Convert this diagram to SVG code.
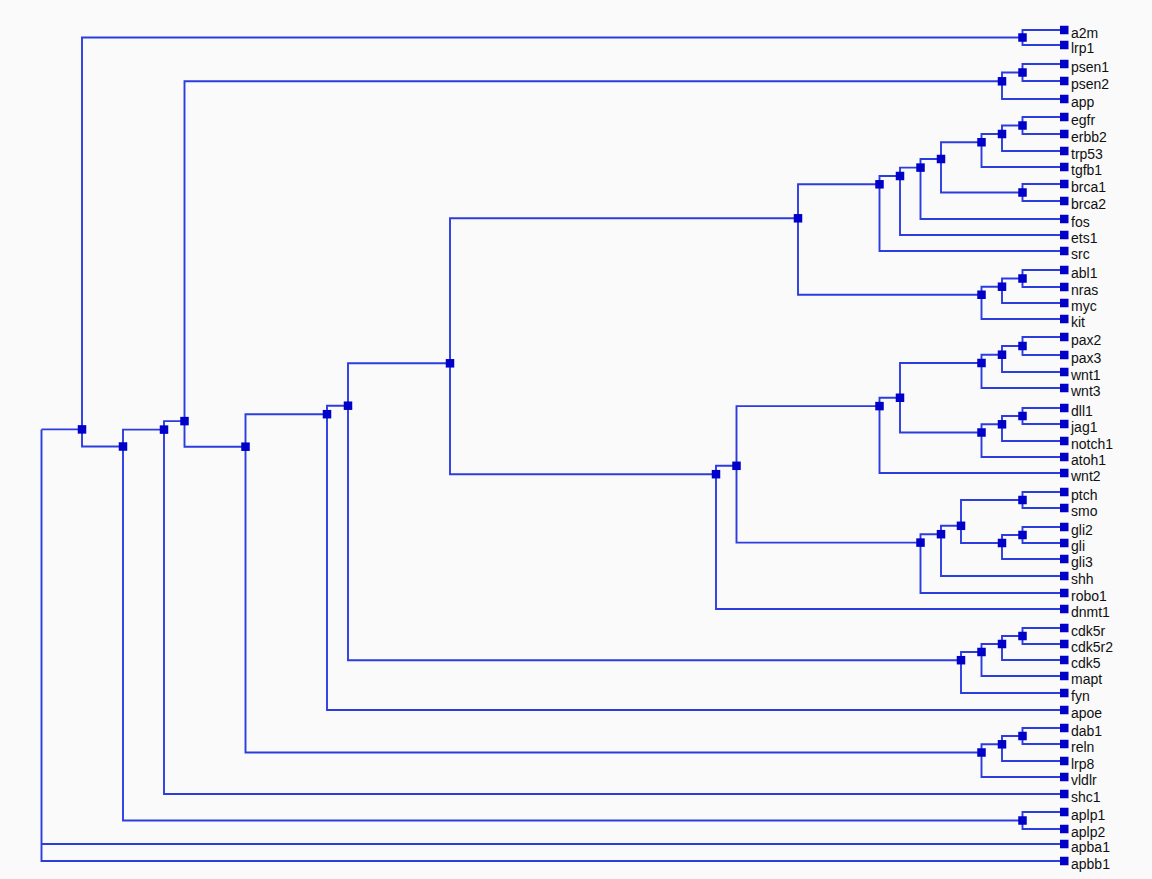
<svg xmlns="http://www.w3.org/2000/svg" width="1152" height="879" viewBox="0 0 1152 879">
  <style>
    .bg { fill: #fafafa; }
    .edge { fill: none; stroke: #2c3de0; stroke-width: 1.9; }
    .sq { fill: #0000c8; }
    .lbl { font-family: "Liberation Sans", Arial, sans-serif; font-size: 14px; fill: #101010; }
  </style>
  <defs>
    <rect id="node" x="-4.25" y="-4.25" width="8.5" height="8.5" class="sq"/>
    <rect id="tip" x="0" y="-4.25" width="8.5" height="8.5" class="sq"/>
  </defs>
  <rect class="bg" x="0" y="0" width="1152" height="879"/>

  <!-- elbow connectors: parent x, parent y, down/up to child y, across to child x -->
  <g id="connectors" class="edge">
    <path d="M41.5 429.4H82M41.5 429.4V844H1060M41.5 429.4V861H1060"/>
    <path d="M82 429.4V37.5H1022.5M82 429.4V446.5H123"/>
    <path d="M1022.5 37.5V30H1060M1022.5 37.5V45H1060"/>
    <path d="M123 446.5V429.6H164M123 446.5V820.5H1022.5"/>
    <path d="M1022.5 820.5V812H1060M1022.5 820.5V829H1060"/>
    <path d="M164 429.6V421.1H184.5M164 429.6V794H1060"/>
    <path d="M184.5 421.1V81.3H1002M184.5 421.1V446.7H245.5"/>
    <path d="M1002 81.3V72.5H1022.5M1002 81.3V99H1060"/>
    <path d="M1022.5 72.5V64H1060M1022.5 72.5V81H1060"/>
    <path d="M245.5 446.7V414.2H327M245.5 446.7V752.5H981.5"/>
    <path d="M327 414.2V405.7H348M327 414.2V710H1060"/>
    <path d="M348 405.7V363.3H450M348 405.7V660.2H961"/>
    <path d="M450 363.3V218.3H798M450 363.3V474.2H716"/>
    <path d="M798 218.3V184.3H879.5M798 218.3V294.75H981.5"/>
    <path d="M879.5 184.3V176H900M879.5 184.3V251H1060"/>
    <path d="M900 176V167.6H920.5M900 176V235H1060"/>
    <path d="M920.5 167.6V159H941M920.5 167.6V219H1060"/>
    <path d="M941 159V142.25H981.5M941 159V192.5H1022.5"/>
    <path d="M981.5 142.25V134H1002M981.5 142.25V167H1060"/>
    <path d="M1002 134V125.5H1022.5M1002 134V151H1060"/>
    <path d="M1022.5 125.5V117H1060M1022.5 125.5V134H1060"/>
    <path d="M1022.5 192.5V184H1060M1022.5 192.5V201H1060"/>
    <path d="M981.5 294.75V286.7H1002M981.5 294.75V319H1060"/>
    <path d="M1002 286.7V278.5H1022.5M1002 286.7V303H1060"/>
    <path d="M1022.5 278.5V270H1060M1022.5 278.5V287H1060"/>
    <path d="M716 474.2V465.8H736.5M716 474.2V609H1060"/>
    <path d="M736.5 465.8V406.1H879.5M736.5 465.8V542.6H920.5"/>
    <path d="M879.5 406.1V397.75H900M879.5 406.1V473H1060"/>
    <path d="M900 397.75V363H981.5M900 397.75V432.5H981.5"/>
    <path d="M981.5 363V354.7H1002M981.5 363V388H1060"/>
    <path d="M1002 354.7V346H1022.5M1002 354.7V372H1060"/>
    <path d="M1022.5 346V337H1060M1022.5 346V355H1060"/>
    <path d="M981.5 432.5V424.3H1002M981.5 432.5V457H1060"/>
    <path d="M1002 424.3V416H1022.5M1002 424.3V441H1060"/>
    <path d="M1022.5 416V408H1060M1022.5 416V424H1060"/>
    <path d="M920.5 542.6V534.2H941M920.5 542.6V593H1060"/>
    <path d="M941 534.2V525.8H961M941 534.2V576H1060"/>
    <path d="M961 525.8V500H1022.5M961 525.8V543H1002"/>
    <path d="M1022.5 500V492H1060M1022.5 500V508H1060"/>
    <path d="M1002 543V535H1022.5M1002 543V559H1060"/>
    <path d="M1022.5 535V527H1060M1022.5 535V543H1060"/>
    <path d="M961 660.2V652H981.5M961 660.2V693H1060"/>
    <path d="M981.5 652V644H1002M981.5 652V676H1060"/>
    <path d="M1002 644V636H1022.5M1002 644V660H1060"/>
    <path d="M1022.5 636V628H1060M1022.5 636V644H1060"/>
    <path d="M981.5 752.5V744.3H1002M981.5 752.5V777H1060"/>
    <path d="M1002 744.3V736H1022.5M1002 744.3V761H1060"/>
    <path d="M1022.5 736V728H1060M1022.5 736V744H1060"/>
  </g>

  <!-- internal cluster nodes -->
  <g id="clusters">
    <g id="c82"><use href="#node" x="82" y="429.4"/></g>
    <g id="c-a2m-lrp1"><use href="#node" x="1022.5" y="37.5"/></g>
    <g id="c123"><use href="#node" x="123" y="446.5"/></g>
    <g id="c-aplp"><use href="#node" x="1022.5" y="820.5"/></g>
    <g id="c164"><use href="#node" x="164" y="429.6"/></g>
    <g id="c184"><use href="#node" x="184.5" y="421.1"/></g>
    <g id="c-psen-app"><use href="#node" x="1002" y="81.3"/></g>
    <g id="c-psen"><use href="#node" x="1022.5" y="72.5"/></g>
    <g id="c245"><use href="#node" x="245.5" y="446.7"/></g>
    <g id="c327"><use href="#node" x="327" y="414.2"/></g>
    <g id="c348"><use href="#node" x="348" y="405.7"/></g>
    <g id="c450"><use href="#node" x="450" y="363.3"/></g>
    <g id="c798"><use href="#node" x="798" y="218.3"/></g>
    <g id="c880a"><use href="#node" x="879.5" y="184.3"/></g>
    <g id="c900a"><use href="#node" x="900" y="176"/></g>
    <g id="c920a"><use href="#node" x="920.5" y="167.6"/></g>
    <g id="c941a"><use href="#node" x="941" y="159"/></g>
    <g id="c-tgfb1"><use href="#node" x="981.5" y="142.25"/></g>
    <g id="c-trp53"><use href="#node" x="1002" y="134"/></g>
    <g id="c-egfr"><use href="#node" x="1022.5" y="125.5"/></g>
    <g id="c-brca"><use href="#node" x="1022.5" y="192.5"/></g>
    <g id="c-kit"><use href="#node" x="981.5" y="294.75"/></g>
    <g id="c-myc"><use href="#node" x="1002" y="286.7"/></g>
    <g id="c-abl1"><use href="#node" x="1022.5" y="278.5"/></g>
    <g id="c716"><use href="#node" x="716" y="474.2"/></g>
    <g id="c736"><use href="#node" x="736.5" y="465.8"/></g>
    <g id="c880b"><use href="#node" x="879.5" y="406.1"/></g>
    <g id="c900b"><use href="#node" x="900" y="397.75"/></g>
    <g id="c-wnt3"><use href="#node" x="981.5" y="363"/></g>
    <g id="c-wnt1"><use href="#node" x="1002" y="354.7"/></g>
    <g id="c-pax"><use href="#node" x="1022.5" y="346"/></g>
    <g id="c-atoh1"><use href="#node" x="981.5" y="432.5"/></g>
    <g id="c-notch1"><use href="#node" x="1002" y="424.3"/></g>
    <g id="c-dll1"><use href="#node" x="1022.5" y="416"/></g>
    <g id="c920b"><use href="#node" x="920.5" y="542.6"/></g>
    <g id="c941b"><use href="#node" x="941" y="534.2"/></g>
    <g id="c961b"><use href="#node" x="961" y="525.8"/></g>
    <g id="c-ptch"><use href="#node" x="1022.5" y="500"/></g>
    <g id="c-gli3"><use href="#node" x="1002" y="543"/></g>
    <g id="c-gli"><use href="#node" x="1022.5" y="535"/></g>
    <g id="c-fyn"><use href="#node" x="961" y="660.2"/></g>
    <g id="c-mapt"><use href="#node" x="981.5" y="652"/></g>
    <g id="c-cdk5"><use href="#node" x="1002" y="644"/></g>
    <g id="c-cdk5r"><use href="#node" x="1022.5" y="636"/></g>
    <g id="c-vldlr"><use href="#node" x="981.5" y="752.5"/></g>
    <g id="c-lrp8"><use href="#node" x="1002" y="744.3"/></g>
    <g id="c-dab1"><use href="#node" x="1022.5" y="736"/></g>
  </g>

  <!-- leaves: gene labels -->
  <g id="leaves">
    <g id="a2m"><use href="#tip" x="1060" y="30"/><text class="lbl" x="1071" y="37.5">a2m</text></g>
    <g id="lrp1"><use href="#tip" x="1060" y="45"/><text class="lbl" x="1071" y="52.5">lrp1</text></g>
    <g id="psen1"><use href="#tip" x="1060" y="64"/><text class="lbl" x="1071" y="71.5">psen1</text></g>
    <g id="psen2"><use href="#tip" x="1060" y="81"/><text class="lbl" x="1071" y="88.5">psen2</text></g>
    <g id="app"><use href="#tip" x="1060" y="99"/><text class="lbl" x="1071" y="106.5">app</text></g>
    <g id="egfr"><use href="#tip" x="1060" y="117"/><text class="lbl" x="1071" y="124.5">egfr</text></g>
    <g id="erbb2"><use href="#tip" x="1060" y="134"/><text class="lbl" x="1071" y="141.5">erbb2</text></g>
    <g id="trp53"><use href="#tip" x="1060" y="151"/><text class="lbl" x="1071" y="158.5">trp53</text></g>
    <g id="tgfb1"><use href="#tip" x="1060" y="167"/><text class="lbl" x="1071" y="174.5">tgfb1</text></g>
    <g id="brca1"><use href="#tip" x="1060" y="184"/><text class="lbl" x="1071" y="191.5">brca1</text></g>
    <g id="brca2"><use href="#tip" x="1060" y="201"/><text class="lbl" x="1071" y="208.5">brca2</text></g>
    <g id="fos"><use href="#tip" x="1060" y="219"/><text class="lbl" x="1071" y="226.5">fos</text></g>
    <g id="ets1"><use href="#tip" x="1060" y="235"/><text class="lbl" x="1071" y="242.5">ets1</text></g>
    <g id="src"><use href="#tip" x="1060" y="251"/><text class="lbl" x="1071" y="258.5">src</text></g>
    <g id="abl1"><use href="#tip" x="1060" y="270"/><text class="lbl" x="1071" y="277.5">abl1</text></g>
    <g id="nras"><use href="#tip" x="1060" y="287"/><text class="lbl" x="1071" y="294.5">nras</text></g>
    <g id="myc"><use href="#tip" x="1060" y="303"/><text class="lbl" x="1071" y="310.5">myc</text></g>
    <g id="kit"><use href="#tip" x="1060" y="319"/><text class="lbl" x="1071" y="326.5">kit</text></g>
    <g id="pax2"><use href="#tip" x="1060" y="337"/><text class="lbl" x="1071" y="344.5">pax2</text></g>
    <g id="pax3"><use href="#tip" x="1060" y="355"/><text class="lbl" x="1071" y="362.5">pax3</text></g>
    <g id="wnt1"><use href="#tip" x="1060" y="372"/><text class="lbl" x="1071" y="379.5">wnt1</text></g>
    <g id="wnt3"><use href="#tip" x="1060" y="388"/><text class="lbl" x="1071" y="395.5">wnt3</text></g>
    <g id="dll1"><use href="#tip" x="1060" y="408"/><text class="lbl" x="1071" y="415.5">dll1</text></g>
    <g id="jag1"><use href="#tip" x="1060" y="424"/><text class="lbl" x="1071" y="431.5">jag1</text></g>
    <g id="notch1"><use href="#tip" x="1060" y="441"/><text class="lbl" x="1071" y="448.5">notch1</text></g>
    <g id="atoh1"><use href="#tip" x="1060" y="457"/><text class="lbl" x="1071" y="464.5">atoh1</text></g>
    <g id="wnt2"><use href="#tip" x="1060" y="473"/><text class="lbl" x="1071" y="480.5">wnt2</text></g>
    <g id="ptch"><use href="#tip" x="1060" y="492"/><text class="lbl" x="1071" y="499.5">ptch</text></g>
    <g id="smo"><use href="#tip" x="1060" y="508"/><text class="lbl" x="1071" y="515.5">smo</text></g>
    <g id="gli2"><use href="#tip" x="1060" y="527"/><text class="lbl" x="1071" y="534.5">gli2</text></g>
    <g id="gli"><use href="#tip" x="1060" y="543"/><text class="lbl" x="1071" y="550.5">gli</text></g>
    <g id="gli3"><use href="#tip" x="1060" y="559"/><text class="lbl" x="1071" y="566.5">gli3</text></g>
    <g id="shh"><use href="#tip" x="1060" y="576"/><text class="lbl" x="1071" y="583.5">shh</text></g>
    <g id="robo1"><use href="#tip" x="1060" y="593"/><text class="lbl" x="1071" y="600.5">robo1</text></g>
    <g id="dnmt1"><use href="#tip" x="1060" y="609"/><text class="lbl" x="1071" y="616.5">dnmt1</text></g>
    <g id="cdk5r"><use href="#tip" x="1060" y="628"/><text class="lbl" x="1071" y="635.5">cdk5r</text></g>
    <g id="cdk5r2"><use href="#tip" x="1060" y="644"/><text class="lbl" x="1071" y="651.5">cdk5r2</text></g>
    <g id="cdk5"><use href="#tip" x="1060" y="660"/><text class="lbl" x="1071" y="667.5">cdk5</text></g>
    <g id="mapt"><use href="#tip" x="1060" y="676"/><text class="lbl" x="1071" y="683.5">mapt</text></g>
    <g id="fyn"><use href="#tip" x="1060" y="693"/><text class="lbl" x="1071" y="700.5">fyn</text></g>
    <g id="apoe"><use href="#tip" x="1060" y="710"/><text class="lbl" x="1071" y="717.5">apoe</text></g>
    <g id="dab1"><use href="#tip" x="1060" y="728"/><text class="lbl" x="1071" y="735.5">dab1</text></g>
    <g id="reln"><use href="#tip" x="1060" y="744"/><text class="lbl" x="1071" y="751.5">reln</text></g>
    <g id="lrp8"><use href="#tip" x="1060" y="761"/><text class="lbl" x="1071" y="768.5">lrp8</text></g>
    <g id="vldlr"><use href="#tip" x="1060" y="777"/><text class="lbl" x="1071" y="784.5">vldlr</text></g>
    <g id="shc1"><use href="#tip" x="1060" y="794"/><text class="lbl" x="1071" y="801.5">shc1</text></g>
    <g id="aplp1"><use href="#tip" x="1060" y="812"/><text class="lbl" x="1071" y="819.5">aplp1</text></g>
    <g id="aplp2"><use href="#tip" x="1060" y="829"/><text class="lbl" x="1071" y="836.5">aplp2</text></g>
    <g id="apba1"><use href="#tip" x="1060" y="844"/><text class="lbl" x="1071" y="851.5">apba1</text></g>
    <g id="apbb1"><use href="#tip" x="1060" y="861"/><text class="lbl" x="1071" y="868.5">apbb1</text></g>
  </g>
</svg>
